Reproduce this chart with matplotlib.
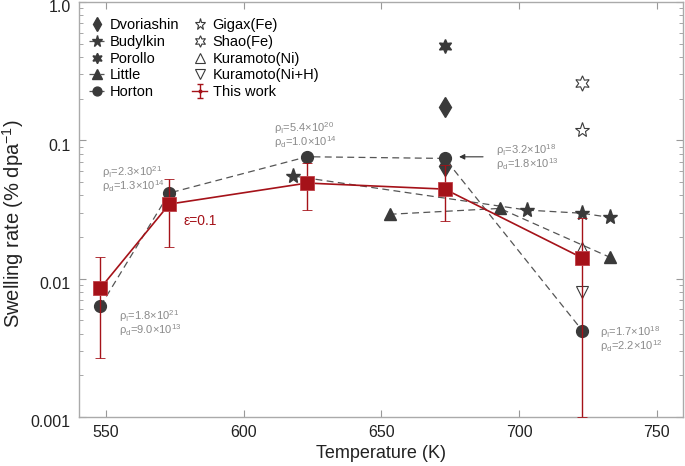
import matplotlib
matplotlib.use("Agg")
import numpy as np
import matplotlib.pyplot as plt
import matplotlib.transforms as mtrans
from matplotlib.ticker import FixedLocator, FixedFormatter, LogLocator, NullFormatter

plt.rcParams['font.family'] = ['Liberation Sans', 'DejaVu Sans']
plt.rcParams['mathtext.fontset'] = 'custom'
plt.rcParams['mathtext.rm'] = 'Liberation Sans'
plt.rcParams['mathtext.it'] = 'Liberation Sans:italic'

# ---- data ----
dvor_T = [673, 673]
dvor_y = [0.175, 0.065]

budy_T = [618, 703, 723, 733]
budy_y = [0.0552, 0.0313, 0.0297, 0.0277]

poro_T = [673]
poro_y = [0.48]

little_T = [653, 693, 733]
little_y = [0.0292, 0.0322, 0.01426]

horton_T = [548, 573, 623, 673, 723]
horton_y = [0.00634, 0.0416, 0.0761, 0.074, 0.0042]

gigax_T = [723]
gigax_y = [0.119]
shao_T = [723]
shao_y = [0.26]
kni_T = [723]
kni_y = [0.0166]
knih_T = [723]
knih_y = [0.0080]

work_T = [548, 573, 623, 673, 723]
work_y = [0.00855, 0.0346, 0.0491, 0.0444, 0.0141]
work_hi = [0.0143, 0.0525, 0.0685, 0.066, 0.0274]
work_lo = [0.00267, 0.0169, 0.0313, 0.0261, 0.001]

# density annotations: (rho_I mantissa, exponent, rho_d mantissa, exponent)
annot_texts = [
    ("2.3", "21", "1.3", "14"),
    ("5.4", "20", "1.0", "14"),
    ("3.2", "18", "1.8", "13"),
    ("1.8", "21", "9.0", "13"),
    ("1.7", "18", "2.2", "12"),
]
# anchor: x (K), y of first line, y of second line
annot_pos = [(548.5, 0.0590, 0.0467),
             (611.0, 0.1228, 0.0973),
             (691.6, 0.0851, 0.0674),
             (554.7, 0.00537, 0.00425),
             (729.4, 0.00411, 0.00326)]

xticks = [550, 600, 650, 700, 750]
yticks = [0.001, 0.01, 0.1, 1.0]
yticklabels = ["0.001", "0.01", "0.1", "1.0"]

# ---- figure ----
W, H = 685, 466
fig = plt.figure(figsize=(W / 100, H / 100), dpi=100)
ax = fig.add_axes([79 / W, 1 - 417 / H, (683 - 79) / W, (417 - 2) / H])
ax.set_yscale('log')
ax.set_xlim(540.2, 759.5)
ax.set_ylim(0.001, 1.0)

dark = '#3a3a3a'
red = '#a51219'
dash_kw = dict(color='#555555', lw=0.9, dashes=(5.5, 3.5))

ax.plot(budy_T, budy_y, marker='*', ms=11, mfc=dark, mec=dark, label='Budylkin', zorder=3, **dash_kw)
ax.plot(little_T, little_y, marker='^', ms=9, mfc=dark, mec=dark, label='Little', zorder=3, **dash_kw)
ax.plot(horton_T, horton_y, marker='o', ms=8.5, mfc=dark, mec=dark, label='Horton', zorder=4, **dash_kw)
ax.plot(dvor_T, dvor_y, ls='none', marker='d', ms=10, mfc=dark, mec=dark, label='Dvoriashin', zorder=3)
ax.plot(poro_T, poro_y, ls='none', marker=(6, 1, 0), ms=10, mfc=dark, mec=dark, label='Porollo', zorder=3)
ax.plot(gigax_T, gigax_y, ls='none', marker='*', ms=11, mfc='none', mec=dark, mew=0.8, label='Gigax(Fe)', zorder=3)
ax.plot(shao_T, shao_y, ls='none', marker=(6, 1, 0), ms=11, mfc='none', mec=dark, mew=0.8, label='Shao(Fe)', zorder=3)
ax.plot(kni_T, kni_y, ls='none', marker='^', ms=9, mfc='none', mec=dark, mew=0.8, label='Kuramoto(Ni)', zorder=3)
ax.plot(knih_T, knih_y, ls='none', marker='v', ms=9, mfc='none', mec=dark, mew=0.8, label='Kuramoto(Ni+H)', zorder=3)

yerr = [[y - lo for y, lo in zip(work_y, work_lo)], [hi - y for y, hi in zip(work_y, work_hi)]]
ax.errorbar(work_T, work_y, yerr=yerr, color=red, ecolor=red, elinewidth=1.0, capsize=3.5,
            capthick=1.0, marker='s', ms=10, mfc=red, mec='#c04048', mew=0.6, lw=1.2, zorder=5)
# legend proxy for "This work"
proxy = ax.errorbar([np.nan], [np.nan], yerr=[[np.nan], [np.nan]], color=red, ecolor=red,
                    elinewidth=1.0, capsize=2.5, capthick=1.0, marker='o', ms=2.5, lw=1.0,
                    label='This work')

# annotations
gray = '#8a8a8a'
for (a, ea, b, eb_), (tx, ty1, ty2) in zip(annot_texts, annot_pos):
    ax.text(tx, ty1, "\u03c1$_\\mathrm{I}$=%s\u00d710$^{%s}$" % (a, ea), color=gray, fontsize=8,
            ha='left', va='center')
    ax.text(tx, ty2, "\u03c1$_\\mathrm{d}$=%s\u00d710$^{%s}$" % (b, eb_), color=gray, fontsize=8,
            ha='left', va='center')

ax.annotate('', xy=(678.2, 0.076), xytext=(686.9, 0.076),
            arrowprops=dict(arrowstyle='-|>', color='#333333', lw=0.8, mutation_scale=8,
                            shrinkA=0, shrinkB=0))

ax.text(578.3, 0.0262, '\u03b5=0.1', color=red, fontsize=10, ha='left', va='center')

# ticks
ax.xaxis.set_major_locator(FixedLocator(xticks))
ax.yaxis.set_major_locator(FixedLocator(yticks))
ax.yaxis.set_major_formatter(FixedFormatter(yticklabels))
ax.yaxis.set_minor_locator(LogLocator(base=10, subs=range(2, 10)))
ax.yaxis.set_minor_formatter(NullFormatter())
ax.tick_params(which='both', direction='in', top=True, right=True, color='#999999',
               labelcolor='#222222')
ax.tick_params(axis='both', which='major', labelsize=11.5, length=5, width=0.8, pad=6)
ax.tick_params(which='minor', length=3, width=0.6)
for sp in ax.spines.values():
    sp.set_color('#aaaaaa')
    sp.set_linewidth(1.0)

ax.set_xlabel('Temperature (K)', fontsize=13, color='#222222', labelpad=3)
ax.set_ylabel('Swelling rate (% dpa$^{-1}$)', fontsize=14.5, color='#222222')
ax.yaxis.set_label_coords(-0.087, 0.465)

offset = mtrans.ScaledTranslation(0, -0.045, fig.dpi_scale_trans)
for lab in ax.get_yticklabels():
    lab.set_transform(lab.get_transform() + offset)

handles, labels = ax.get_legend_handles_labels()
order = ['Dvoriashin', 'Budylkin', 'Porollo', 'Little', 'Horton',
         'Gigax(Fe)', 'Shao(Fe)', 'Kuramoto(Ni)', 'Kuramoto(Ni+H)', 'This work']
hd = dict(zip(labels, handles))
ax.legend([hd[k] for k in order], order, loc='upper left', ncol=2, frameon=False, fontsize=10.5,
          handlelength=1.0, handletextpad=0.4, columnspacing=0.9, labelspacing=0.18,
          markerscale=0.75, borderaxespad=0.3, bbox_to_anchor=(0.0, 0.985))

fig.savefig('out.png', dpi=100)
